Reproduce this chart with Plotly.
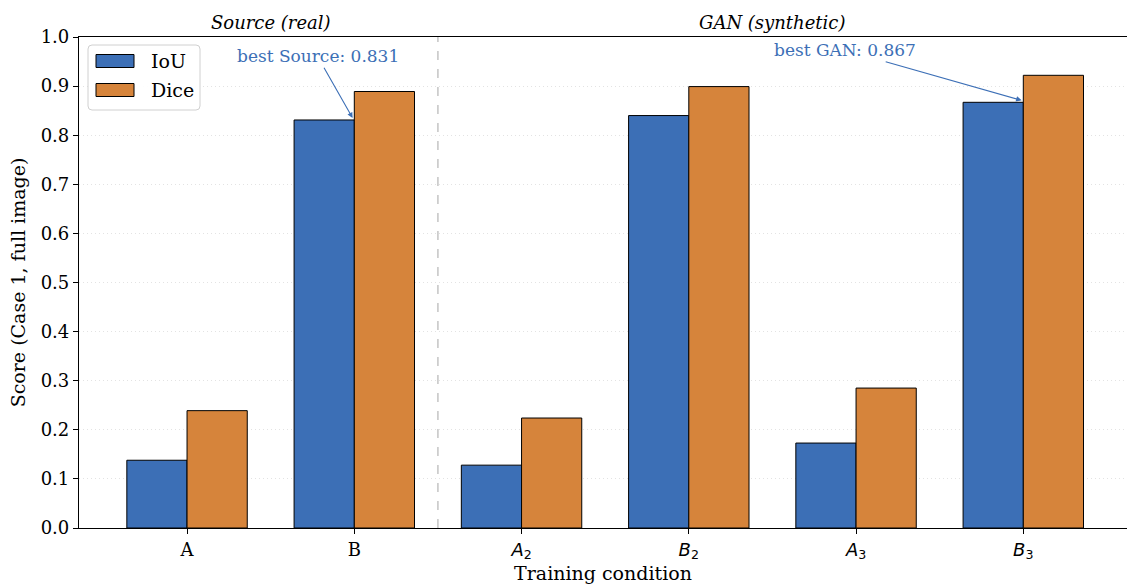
import plotly.graph_objects as go

# Training conditions and scores
conditions = ["A", "B", "A2", "B2", "A3", "B3"]
tick_labels = [
    "A",
    "B",
    "<span style='font-family:DejaVu Sans'><i>A</i><sub>2</sub></span>",
    "<span style='font-family:DejaVu Sans'><i>B</i><sub>2</sub></span>",
    "<span style='font-family:DejaVu Sans'><i>A</i><sub>3</sub></span>",
    "<span style='font-family:DejaVu Sans'><i>B</i><sub>3</sub></span>",
]
iou = [0.138, 0.831, 0.128, 0.840, 0.173, 0.867]
dice = [0.239, 0.889, 0.224, 0.899, 0.285, 0.922]
series_names = ["IoU", "Dice"]

x_pos = list(range(len(conditions)))
BLUE = "#3c6fb6"
ORANGE = "#d6843b"
FONT = "DejaVu Serif"

W, H = 1127, 584
ML, MR, MT, MB = 79, 0, 37, 56
PW, PH = W - ML - MR, H - MT - MB


def px(x):
    return (x - ML) / PW


def py(y):
    return (H - MB - y) / PH


fig = go.Figure()
fig.add_trace(go.Bar(x=x_pos, y=iou, name=series_names[0], showlegend=False,
                     marker=dict(color=BLUE, line=dict(color="black", width=1))))
fig.add_trace(go.Bar(x=x_pos, y=dice, name=series_names[1], showlegend=False,
                     marker=dict(color=ORANGE, line=dict(color="black", width=1))))

# separator between real and synthetic groups
fig.add_shape(type="line", x0=1.5, x1=1.5, y0=0, y1=1, xref="x", yref="y",
              line=dict(color="#bbbbbb", width=1.3, dash="dash"))

best_src = max(iou[:2])
best_gan = max(iou[2:])
fig.add_annotation(x=0.99, y=best_src + 0.004, ax=0.78, ay=0.961, axref="x", ayref="y",
                   text=f"best Source: {best_src:.3f}", showarrow=True, arrowhead=2,
                   arrowsize=1, arrowwidth=1.1, arrowcolor=BLUE,
                   font=dict(family=FONT, size=17, color=BLUE))
fig.add_annotation(x=4.99, y=best_gan + 0.004, ax=3.935, ay=0.973, axref="x", ayref="y",
                   text=f"best GAN: {best_gan:.3f}", showarrow=True, arrowhead=2,
                   arrowsize=1, arrowwidth=1.1, arrowcolor=BLUE,
                   font=dict(family=FONT, size=17, color=BLUE))

# group headers
fig.add_annotation(x=0.5, y=1.0, xref="x", yref="paper", yanchor="bottom", yshift=2,
                   text="<i>Source (real)</i>", showarrow=False,
                   font=dict(family=FONT, size=18, color="black"))
fig.add_annotation(x=3.5, y=1.0, xref="x", yref="paper", yanchor="bottom", yshift=2,
                   text="<i>GAN (synthetic)</i>", showarrow=False,
                   font=dict(family=FONT, size=18, color="black"))

# legend box with rounded corners
bx0, bx1, by0, by1, r = 88, 200, 45, 110, 4
rx, ry = r / PW, r / PH
X0, X1, Y0, Y1 = px(bx0), px(bx1), py(by1), py(by0)
path = (f"M {X0 + rx},{Y0} L {X1 - rx},{Y0} Q {X1},{Y0} {X1},{Y0 + ry} "
        f"L {X1},{Y1 - ry} Q {X1},{Y1} {X1 - rx},{Y1} L {X0 + rx},{Y1} "
        f"Q {X0},{Y1} {X0},{Y1 - ry} L {X0},{Y0 + ry} Q {X0},{Y0} {X0 + rx},{Y0} Z")
fig.add_shape(type="path", path=path, xref="paper", yref="paper",
              fillcolor="rgba(255,255,255,0.9)", line=dict(color="#d0d0d0", width=1))
for i, (name, col) in enumerate(zip(series_names, [BLUE, ORANGE])):
    cy = 61 + i * 29
    fig.add_shape(type="rect", xref="paper", yref="paper",
                  x0=px(96), x1=px(134), y0=py(cy + 6.5), y1=py(cy - 6.5),
                  fillcolor=col, line=dict(color="black", width=1))
    fig.add_annotation(x=px(149), y=py(cy), xref="paper", yref="paper",
                       xanchor="left", yanchor="middle", showarrow=False,
                       text=name, font=dict(family=FONT, size=19, color="black"))

fig.update_layout(
    width=W, height=H,
    margin=dict(l=ML, r=MR, t=MT, b=MB),
    paper_bgcolor="white", plot_bgcolor="white",
    barmode="group", bargap=0.28, bargroupgap=0,
    font=dict(family=FONT, size=18, color="black"),
    showlegend=False,
    xaxis=dict(range=[-0.646, 5.62], tickvals=x_pos, ticktext=tick_labels,
               showline=True, linecolor="black", linewidth=1.2, mirror=True,
               ticks="outside", ticklen=5, tickcolor="black", showgrid=False,
               tickfont=dict(size=18),
               title=dict(text="Training condition", font=dict(size=19), standoff=5)),
    yaxis=dict(range=[0, 1.0], tickvals=[i / 10 for i in range(11)],
               tickformat=".1f",
               showline=True, linecolor="black", linewidth=1.2, mirror=True,
               ticks="outside", ticklen=5, tickcolor="black",
               showgrid=True, gridcolor="#e3e3e3", griddash="1px,3px", gridwidth=1,
               zeroline=False, tickfont=dict(size=18),
               title=dict(text="Score (Case 1, full image)", font=dict(size=19), standoff=10)),
)

fig.write_html("out.html")
